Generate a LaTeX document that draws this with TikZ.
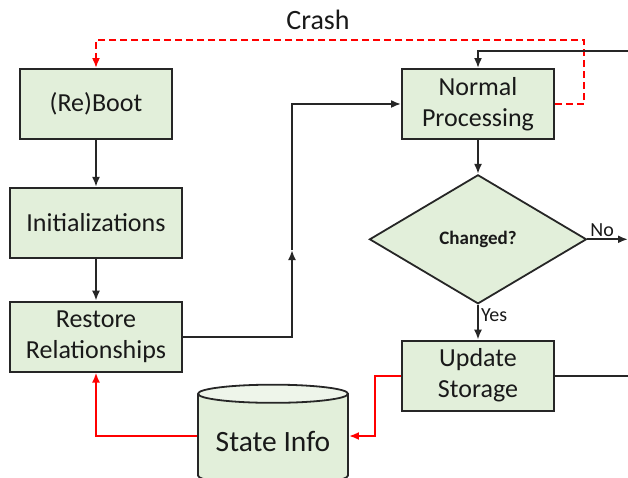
\documentclass[tikz,border=0pt]{standalone}
\usepackage{fontspec}
\setmainfont{Carlito}
\usepackage{tikz}
\usetikzlibrary{arrows,arrows.meta,shapes,positioning}
\definecolor{boxgreen}{HTML}{E2EFDA}
\definecolor{capgreen}{HTML}{EEF5EA}
\definecolor{linegray}{HTML}{262626}
\tikzstyle{arrow}=[draw,-{Latex[length=10pt,width=8pt]},line width=2pt,linegray]
\tikzstyle{plain}=[draw,line width=2pt,linegray]
\tikzstyle{redarrow}=[draw,-{Latex[length=10pt,width=8pt]},line width=2pt,red]
\tikzstyle{crash}=[draw,-{Latex[length=10pt,width=8pt]},line width=2pt,red,dash pattern=on 7pt off 4pt]
\tikzstyle{tbox}=[rectangle,draw=linegray,line width=1.8pt,fill=boxgreen,minimum width=152pt,minimum height=70pt,align=center,text=black!90,font=\fontsize{26}{31}\selectfont]
\tikzstyle{tdiamond}=[diamond,draw=linegray,line width=1.8pt,fill=boxgreen,inner sep=0pt,minimum width=217pt,minimum height=129pt,text=black!90,font=\fontsize{19}{23}\selectfont\bfseries]
\tikzstyle{tdisk}=[cylinder,shape border rotate=90,aspect=0.15,draw=linegray,line width=1.8pt,cylinder uses custom fill,cylinder body fill=boxgreen,cylinder end fill=capgreen,minimum width=150pt,minimum height=100pt,text=black!90,font=\fontsize{29.5}{34}\selectfont]
\tikzstyle{tlabel}=[text=black!90,font=\fontsize{20}{24}\selectfont,inner sep=2pt]

\begin{document}
\begin{tikzpicture}[x=1pt,y=1pt]
\clip (0,0) rectangle (628,477);
\node [tbox] (boot) at (96,373) {(Re)Boot};
\node [tbox,minimum width=172pt,below=47pt of boot] (init) {Initializations};
\node [tbox,minimum width=172pt,below=42pt of init] (rr) {Restore\\Relationships};
\node [tbox] (np) at (478,373) {Normal\\Processing};
\node [tdiamond,below=34pt of np] (dia) {Changed?};
\node [tbox,below=35pt of dia] (us) {Update\\Storage};
\node [tdisk] (db) at (273,36) {State Info};
\node [font=\fontsize{28}{32}\selectfont,text=black!90] (crash) at (318,457) {Crash};

\coordinate (cr) at (584,437);
\coordinate (in1) at (628,426);
\coordinate (up) at (292,227);
\coordinate (no) at (628,240);
\coordinate (out2) at (628,105);
\coordinate (rc) at (375,41);

% crash loop
\draw[crash] (np.east) -| (cr) -| (boot.north);
% start-up chain
\draw[arrow] (boot) -- (init);
\draw[arrow] (init) -- (rr);
\draw[arrow] (rr.east) -| (up);
\draw[arrow] (up) |- (np.west);
% processing loop
\draw[arrow] (in1) -| (np.north);
\draw[arrow] (np) -- (dia);
\draw[arrow] (dia.east) -- node[tlabel,pos=0,anchor=south west]{No} (dia.east -| no);
\draw[arrow] (dia.south) -- node[tlabel,right,pos=0.3]{Yes} (us.north);
\draw[plain] (us.east) -- (us.east -| out2);
% state storage
\draw[redarrow] (us.west) -| (rc) -- (rc -| db.east);
\draw[redarrow] (db.west |- rc) -| (rr.south);
\end{tikzpicture}
\end{document}
